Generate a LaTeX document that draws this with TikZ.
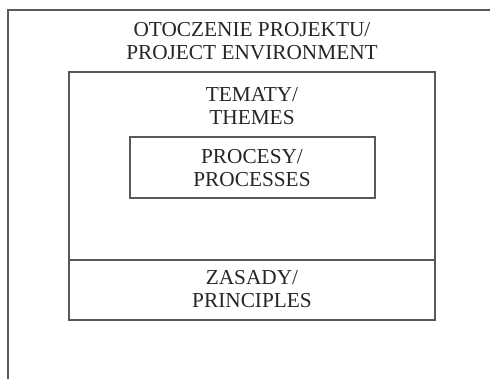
\documentclass[tikz,border=0pt]{standalone}
\usepackage{fontspec}
\setmainfont{Liberation Serif}
\usepackage{tikz}
\usetikzlibrary{positioning}

\tikzset{
	ramka/.style={draw=black!65, line width=1.6pt},
	napis/.style={align=center, text=black!85, font=\fontsize{21.3}{23}\selectfont, inner sep=0pt}
}

\begin{document}
\begin{tikzpicture}[x=1pt, y=-1pt]
		\useasboundingbox (0,0) rectangle (490,378);
		\clip (0,0) rectangle (490,378);
		%Otoczenie projektu
		\draw [ramka] (8,10) rectangle (500,390);
		\node [napis] (otoczenie) at (252,41.5) {OTOCZENIE PROJEKTU/\\PROJECT ENVIRONMENT};
		%Tematy
		\draw [ramka] (69,72) rectangle (435,260);
		\node [napis] (tematy) at (252,106.5) {TEMATY/\\THEMES};
		%Procesy
		\draw [ramka] (130,137) rectangle (375,198);
		\node [napis] (procesy) at (252,168) {PROCESY/\\PROCESSES};
		%Zasady
		\draw [ramka] (69,260) rectangle (435,320);
		\node [napis] (zasady) at (252,289.5) {ZASADY/\\PRINCIPLES};
	\end{tikzpicture}
\end{document}
